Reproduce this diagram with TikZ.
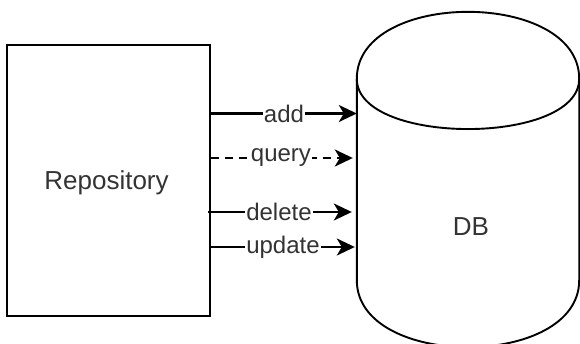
\documentclass[tikz,border=0pt]{standalone}
\usepackage{fontspec}
\setmainfont{Liberation Sans}
\usetikzlibrary{arrows.meta}
\begin{document}
\begin{tikzpicture}[x=1pt,y=-1pt,
  shapeline/.style={draw=black,line width=2.2pt},
  conn/.style={line width=2.2pt,-{Stealth[length=18pt,width=17pt,inset=5pt]}},
  lbl/.style={fill=white,inner sep=1pt,text=black!80,font=\fontsize{24}{28}\selectfont},
  big/.style={text=black!80,font=\fontsize{26}{30}\selectfont}]
\useasboundingbox (0,0) rectangle (580,343);
\node[shapeline,minimum width=203pt,minimum height=271pt,inner sep=0pt] (repo) at (108.5,180.5) {};
\node[big] (repotext) at (106.5,183) {Repository};
% cylinder frame node
\node[minimum width=222pt,minimum height=335pt,inner sep=0pt] (db) at (468,179.5) {};
\node[big] (dbtext) at (471,227) {DB};
\draw[draw=black,line width=1.9pt]
  ([yshift=-67pt]db.north west) .. controls ([yshift=22.3pt]db.north west) and ([yshift=22.3pt]db.north east) .. ([yshift=-67pt]db.north east)
  -- ([yshift=67pt]db.south east) .. controls ([yshift=-22.3pt]db.south east) and ([yshift=-22.3pt]db.south west) .. ([yshift=67pt]db.south west)
  -- cycle;
\draw[draw=black,line width=1.9pt]
  ([yshift=-67pt]db.north west) .. controls ([yshift=-134pt]db.north west) and ([yshift=-134pt]db.north east) .. ([yshift=-67pt]db.north east);
% connectors
\draw[conn] (repo.east |- 0,113.5) -- node[lbl]{add} (db.west |- 0,113.5);
\draw[conn,dash pattern=on 8pt off 6pt] (repo.east |- 0,158) -- node[lbl,xshift=-1pt]{query} ([xshift=-4pt]db.west |- 0,158);
\draw[conn] ([xshift=-3pt]repo.east |- 0,212) -- node[lbl,xshift=-1pt]{delete} ([xshift=-5pt]db.west |- 0,212);
\draw[conn] (repo.east |- 0,247) -- node[lbl]{update} ([xshift=-2pt]db.west |- 0,247);
\end{tikzpicture}
\end{document}
